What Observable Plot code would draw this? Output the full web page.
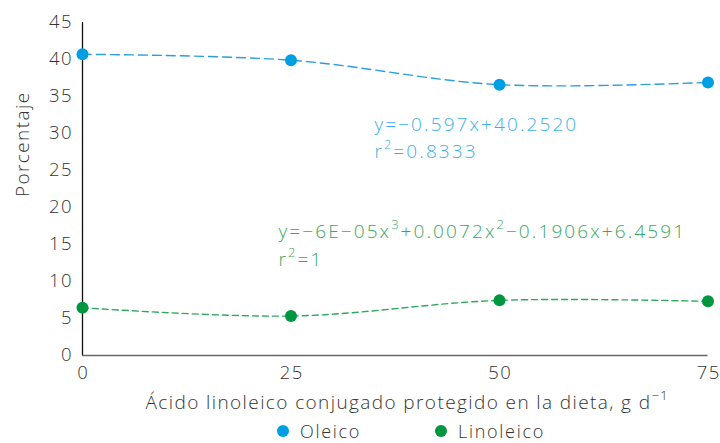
<!DOCTYPE html>
<html>
<head>
<meta charset="utf-8">
<script src="https://cdn.jsdelivr.net/npm/d3@7"></script>
<script src="https://cdn.jsdelivr.net/npm/@observablehq/plot@0.6"></script>
<style>
  html, body { margin: 0; padding: 0; background: #fff; }
  body { width: 720px; height: 443px; overflow: hidden; font-family: "Open Sans", sans-serif; font-weight: 300; color: #333; }
  #legend { position: relative; height: 21px; font-size: 18px; letter-spacing: 1.7px; }
  .item { position: absolute; top: -2px; display: flex; align-items: center; height: 21px; }
  .sw { width: 12px; height: 12px; border-radius: 50%; margin-right: 11px; }
  g[aria-label="y-axis tick label"] text, g[aria-label="x-axis tick label"] text { letter-spacing: 1.5px; }
  .eq-text text { letter-spacing: 2.1px; }
  .xlab text { letter-spacing: 1.4px; }
  .ylab text { letter-spacing: 1.4px; }
</style>
</head>
<body>
<div id="chart"></div>
<div id="legend"></div>
<script>
const doses = [0, 25, 50, 75];
const oleico = [40.7, 39.9, 36.6, 36.9];
const linoleico = [6.46, 5.33, 7.45, 7.32];
const seriesNames = ["Oleico", "Linoleico"];
const pointColors = ["#009fe3", "#009640"];
const lineColors = ["#2a9fdc", "#2fa85e"];
const textColors = ["#3cb0e6", "#37a862"];
const yTicks = [0, 5, 10, 15, 20, 25, 30, 35, 40, 45];
const xTicks = [0, 25, 50, 75];
const eqOleico = ["y=−0.597x+40.2520", "r^2=0.8333"];
const eqLinoleico = ["y=−6E−05x^3+0.0072x^2−0.1906x+6.4591", "r^2=1"];
const eqX = [35, 23.5];
const eqY = [[31.2, 27.5], [16.75, 12.95]];
const xLabel = "Ácido linoleico conjugado protegido en la dieta, g d^−1";
const yLabel = "Porcentaje";

const oleRows = doses.map((d, i) => ({dose: d, value: oleico[i]}));
const linRows = doses.map((d, i) => ({dose: d, value: linoleico[i]}));

const eqs = [];
[eqOleico, eqLinoleico].forEach((lines, s) => {
  lines.forEach((t, j) => eqs.push({x: eqX[s], y: eqY[s][j], t, c: textColors[s]}));
});

const FONT = "'Open Sans', Lato, sans-serif";
const plot = Plot.plot({
  width: 720,
  height: 422,
  marginLeft: 82,
  marginRight: 12.5,
  marginTop: 22,
  marginBottom: 67,
  style: {fontFamily: FONT, fontSize: "18px", color: "#333", background: "#fff", fontWeight: 300},
  x: {domain: [0, 75], ticks: xTicks, label: null},
  y: {domain: [0, 45], ticks: yTicks, label: null},
  marks: [
    Plot.axisY({ticks: yTicks, tickSize: 0, tickPadding: 9.5, fontSize: 18.5, fill: "#333", label: null}),
    Plot.axisX({ticks: xTicks, tickSize: 0, tickPadding: 10, fontSize: 18.5, fill: "#333", label: null, dx: 0.75}),
    Plot.ruleX([0], {stroke: "#111", strokeWidth: 1.3}),
    Plot.ruleY([0], {stroke: "#666", strokeWidth: 1.5}),
    Plot.line(oleRows, {x: "dose", y: "value", curve: "catmull-rom", stroke: lineColors[0], strokeWidth: 1.4, strokeDasharray: "9,5"}),
    Plot.line(linRows, {x: "dose", y: "value", curve: "catmull-rom", stroke: lineColors[1], strokeWidth: 1.4, strokeDasharray: "6,4"}),
    Plot.dot(oleRows, {x: "dose", y: "value", r: 6, fill: pointColors[0]}),
    Plot.dot(linRows, {x: "dose", y: "value", r: 6, fill: pointColors[1]}),
    Plot.text(eqs, {x: "x", y: "y", text: "t", fill: "c", textAnchor: "start", lineAnchor: "middle", fontSize: 19, className: "eq-text"}),
    Plot.text([xLabel], {frameAnchor: "bottom", dy: 53, dx: 12, fontSize: 19, fill: "#333", className: "xlab"}),
    Plot.text([yLabel], {frameAnchor: "left", rotate: -90, dx: -60, dy: 8, fontSize: 19, fill: "#333", className: "ylab"})
  ]
});
document.getElementById("chart").appendChild(plot);

// render "^n" segments as real superscripts
d3.select(plot).selectAll(".eq-text text, .xlab text").each(function() {
  const el = d3.select(this);
  const raw = this.textContent;
  if (!raw.includes("^")) return;
  el.text(null);
  const parts = raw.split(/\^([−\-]?\d+)/);
  parts.forEach((p, k) => {
    if (!p) return;
    const ts = el.append("tspan").text(p);
    if (k % 2 === 1) ts.attr("baseline-shift", "super").attr("font-size", "68%");
  });
});

const legend = document.getElementById("legend");
const legendX = [277, 435];
seriesNames.forEach((n, i) => {
  const it = document.createElement("div");
  it.className = "item";
  it.style.left = legendX[i] + "px";
  it.innerHTML = `<span class="sw" style="background:${pointColors[i]}"></span><span>${n}</span>`;
  legend.appendChild(it);
});
</script>
</body>
</html>
